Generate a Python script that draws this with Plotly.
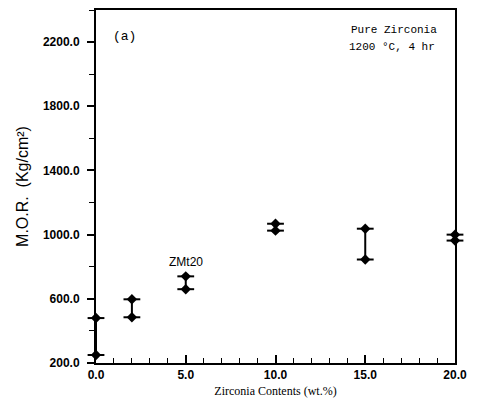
import plotly.graph_objects as go

# Data: zirconia content (wt.%) and M.O.R. range (min / max)
zirconia = [0.0, 2.0, 5.0, 10.0, 15.0, 20.0]
mor_low = [250, 485, 660, 1025, 845, 963]
mor_high = [480, 597, 740, 1068, 1037, 1000]

y_ticks = [200, 600, 1000, 1400, 1800, 2200]
x_ticks = [0, 5, 10, 15, 20]

xs, ys = [], []
for x, lo, hi in zip(zirconia, mor_low, mor_high):
    xs += [x, x, None]
    ys += [lo, hi, None]

fig = go.Figure()
fig.add_trace(go.Scatter(x=xs, y=ys, mode="lines",
                         line=dict(color="black", width=2),
                         hoverinfo="skip", showlegend=False, cliponaxis=False))
pts_x = zirconia + zirconia
pts_y = mor_low + mor_high
fig.add_trace(go.Scatter(x=pts_x, y=pts_y, mode="markers",
                         marker=dict(symbol="line-ew", size=12,
                                     line=dict(color="black", width=2)),
                         showlegend=False, cliponaxis=False))
fig.add_trace(go.Scatter(x=pts_x, y=pts_y, mode="markers",
                         marker=dict(symbol="diamond", size=8, color="black"),
                         showlegend=False, cliponaxis=False))

sans = "Liberation Sans, Arial, sans-serif"
mono = "Liberation Mono, DejaVu Sans Mono, monospace"
serif = "Liberation Serif, serif"

fig.update_layout(
    width=481, height=406,
    margin=dict(l=96, r=26, t=8, b=43),
    paper_bgcolor="white", plot_bgcolor="white",
    font=dict(family=sans, color="black"),
    xaxis=dict(range=[0, 20], tickvals=x_ticks, tickformat=".1f",
               ticks="inside", ticklen=8, tickwidth=1.5, tickcolor="black",
               minor=dict(dtick=1, ticks="inside", ticklen=5, tickcolor="black", tickwidth=1),
               showline=True, linecolor="black", linewidth=2, mirror=True,
               showgrid=False, zeroline=False,
               tickfont=dict(family=sans, size=12, color="black", weight="bold"),
               title=dict(text="Zirconia Contents (wt.%)", standoff=5,
                          font=dict(family=serif, size=12, color="black"))),
    yaxis=dict(range=[200, 2400], tickvals=y_ticks, tickformat=".1f",
               ticks="outside", ticklen=7, tickwidth=1.5, tickcolor="black",
               ticklabelstandoff=5,
               minor=dict(dtick=200, tick0=200, ticks="outside", ticklen=5, tickcolor="black", tickwidth=1),
               showline=True, linecolor="black", linewidth=2, mirror=True,
               showgrid=False, zeroline=False,
               tickfont=dict(family=sans, size=12, color="black", weight="bold"),
               title=dict(text="M.O.R.  (Kg/cm²)", standoff=10,
                          font=dict(family=sans, size=16, color="black"))),
    annotations=[
        dict(x=0.08, y=0.924, xref="paper", yref="paper", text="(a)", showarrow=False,
             xanchor="center", yanchor="middle",
             font=dict(family=mono, size=13, color="black")),
        dict(x=0.955, y=0.944, xref="paper", yref="paper", text="Pure Zirconia", showarrow=False,
             xanchor="right", yanchor="middle",
             font=dict(family=mono, size=11, color="black")),
        dict(x=0.95, y=0.896, xref="paper", yref="paper", text="1200 °C, 4 hr", showarrow=False,
             xanchor="right", yanchor="middle",
             font=dict(family=mono, size=11, color="black")),
        dict(x=5.0, y=830, xref="x", yref="y", text="ZMt20", showarrow=False,
             xanchor="center", yanchor="middle",
             font=dict(family=sans, size=12, color="black")),
    ],
)

fig.write_html("out.html")
